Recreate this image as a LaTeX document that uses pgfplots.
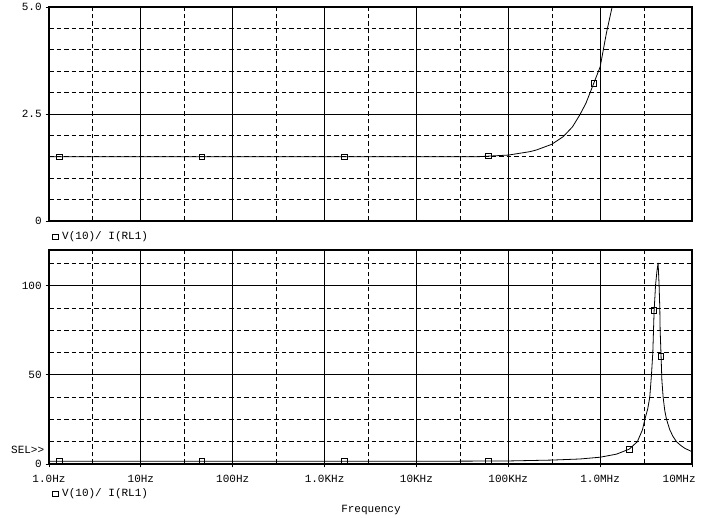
\documentclass[border=0pt]{standalone}
\usepackage{fontspec}
\setmainfont{Liberation Mono}
\usepackage{pgfplots}
\pgfplotsset{compat=1.18}
\pgfplotstableread{
f v
1 1.5
10 1.5
100 1.5
1000 1.5
10000 1.5
45000 1.5
100000 1.54
172000 1.62
203000 1.66
296000 1.79
396000 1.97
500000 2.2
601000 2.48
700000 2.75
853000 3.22
1000000 3.6
1170000 4.39
1350000 5.0
}\toptable
\pgfplotstableread{
f v
1 1.5
1000 1.5
10000 1.5
100000 1.7
300000 2.2
600000 2.8
1000000 3.8
1500000 5.5
2070000 8.3
2540000 12.5
2890000 19.2
3060000 24.8
3300000 31
3470000 37.5
3620000 50
3745000 62.5
3810000 75
3870000 86
3950000 94
4006000 100
4150000 108
4276000 112.7
4385000 100
4460000 87.5
4500000 75
4610000 60
4700000 47
4850000 37.5
5050000 30
5280000 25
5730000 19.2
6200000 15.5
6780000 12.5
7500000 10.5
8350000 8.8
10000000 6.9
}\bottable
\pgfplotstableread{
f v
1.29 1.5
46.2 1.5
1640 1.5
60400 1.52
853000 3.22
}\topmarks
\pgfplotstableread{
f v
1.29 1.5
46.2 1.5
1640 1.5
60400 1.5
2070000 8.3
3870000 86
4610000 60.3
}\botmarks
\begin{document}
\fontsize{11}{13}\selectfont
\begin{tikzpicture}
\useasboundingbox (0pt,0pt) rectangle (715pt,518pt);
% top panel
\begin{axis}[
  xmode=log, xmin=1, xmax=1e7,
  width=643pt, height=214pt, scale only axis,
  axis line style={line width=1.2pt},
  xtick={1,10,100,1000,10000,100000,1000000,10000000},
  minor xtick={3,30,300,3000,30000,300000,3000000},
  grid=both,
  major grid style={black, line width=0.9pt},
  minor grid style={black, line width=0.9pt, dash pattern=on 4.5pt off 3pt},
  tick pos=left, tick align=outside,
  major tick length=3.5pt, minor tick length=0pt,
  every tick/.style={black, line width=0.9pt},
  /pgf/number format/assume math mode=true,
  tick label style={font=\fontsize{11}{13}\selectfont},
  anchor=south west, at={(49pt,297pt)},
  ymin=0, ymax=5,
  ytick={0,2.5,5}, yticklabels={0,2.5,5.0},
  minor ytick={0.5,1,1.5,2,3,3.5,4,4.5},
  xticklabels={}, xtick style={draw=none}]
\addplot[black, line width=0.8pt] table[x=f,y=v] {\toptable};
\addplot[only marks, mark=square, mark size=2.8pt, mark options={black, line width=0.9pt}] table[x=f,y=v] {\topmarks};
\end{axis}
% bottom panel
\begin{axis}[
  xmode=log, xmin=1, xmax=1e7,
  width=643pt, height=214pt, scale only axis,
  axis line style={line width=1.2pt},
  xtick={1,10,100,1000,10000,100000,1000000,10000000},
  minor xtick={3,30,300,3000,30000,300000,3000000},
  grid=both,
  major grid style={black, line width=0.9pt},
  minor grid style={black, line width=0.9pt, dash pattern=on 4.5pt off 3pt},
  tick pos=left, tick align=outside,
  major tick length=3.5pt, minor tick length=0pt,
  every tick/.style={black, line width=0.9pt},
  /pgf/number format/assume math mode=true,
  tick label style={font=\fontsize{11}{13}\selectfont},
  anchor=south west, at={(49pt,54pt)},
  ymin=0, ymax=120,
  ytick={0,50,100}, yticklabels={0,50,100},
  minor ytick={12.5,25,37.5,62.5,75,87.5,112.5},
  xticklabels={1.0Hz,10Hz,100Hz,1.0KHz,10KHz,100KHz,1.0MHz,\makebox[0pt][r]{10MHz\hspace{-3.7pt}}},
  xticklabel style={yshift=-4pt}]
\addplot[black, line width=0.8pt] table[x=f,y=v] {\bottable};
\addplot[only marks, mark=square, mark size=2.8pt, mark options={black, line width=0.9pt}] table[x=f,y=v] {\botmarks};
\end{axis}
% legends and labels
\draw[line width=0.9pt] (52.5pt,278.2pt) rectangle (58.2pt,283.9pt);
\node[anchor=west, inner sep=0] at (62pt,281pt) {V(10)/ I(RL1)};
\draw[line width=0.9pt] (52.5pt,21.2pt) rectangle (58.2pt,26.9pt);
\node[anchor=west, inner sep=0] at (62pt,24pt) {V(10)/ I(RL1)};
\node[anchor=west, inner sep=0] at (11pt,68pt) {SEL>{}>};
\node[inner sep=0] at (371pt,8pt) {Frequency};
\end{tikzpicture}
\end{document}
